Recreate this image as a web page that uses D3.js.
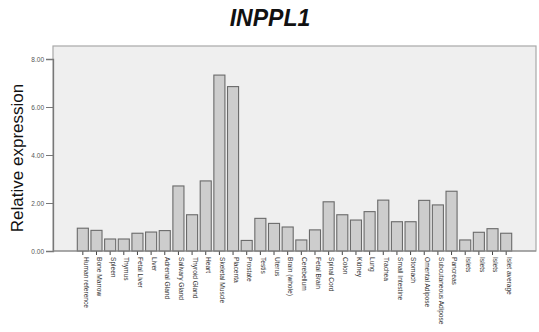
<!DOCTYPE html>
<html>
<head>
<meta charset="utf-8">
<script src="https://cdn.jsdelivr.net/npm/d3@7"></script>
<style>
  html, body { margin: 0; padding: 0; background: #fff; }
  svg { display: block; font-family: "Liberation Sans", Arial, sans-serif; }
</style>
</head>
<body>
<svg id="chart" width="539" height="332"></svg>
<script>
// Tissue panel and relative INPPL1 expression
const tissues = [
  "Human reference", "Bone Marrow", "Spleen", "Thymus", "Fetal Liver", "Liver",
  "Adrenal Gland", "Salivary Gland", "Thyroid Gland", "Heart", "Skeletal Muscle",
  "Placenta", "Prostate", "Testis", "Uterus", "Brain (whole)", "Cerebellum",
  "Fetal Brain", "Spinal Cord", "Colon", "Kidney", "Lung", "Trachea",
  "Small Intestine", "Stomach", "Omental Adipose", "Subcutaneous Adipose",
  "Pancreas", "Islets", "Islets", "Islets", "Islet average"
];
const expression = [
  0.95, 0.86, 0.50, 0.50, 0.74, 0.79, 0.85, 2.71, 1.51, 2.92, 7.33,
  6.85, 0.44, 1.36, 1.15, 1.00, 0.46, 0.88, 2.05, 1.51, 1.29, 1.64,
  2.12, 1.22, 1.22, 2.11, 1.92, 2.49, 0.46, 0.78, 0.93, 0.74
];
const yTicks = [0, 2, 4, 6, 8];
const chartTitle = "INPPL1";
const yTitle = "Relative expression";

const svg = d3.select("#chart");
const plot = { left: 53, right: 536, top: 46, bottom: 251 };

const y = d3.scaleLinear().domain([0, 8]).range([plot.bottom, 59]);
const keys = d3.range(tissues.length);
const x = d3.scaleBand().domain(keys).range([76, 513]).paddingInner(0.19).paddingOuter(0.095);

// plot background
svg.append("rect")
  .attr("x", plot.left).attr("y", plot.top)
  .attr("width", plot.right - plot.left).attr("height", plot.bottom - plot.top)
  .attr("fill", "#efefef").attr("stroke", "#a8a8a8").attr("stroke-width", 1.2);

// bars
svg.append("g").selectAll("rect")
  .data(keys)
  .join("rect")
  .attr("x", i => x(i))
  .attr("y", i => y(expression[i]))
  .attr("width", x.bandwidth())
  .attr("height", i => y(0) - y(expression[i]))
  .attr("fill", "#cdcdcd")
  .attr("stroke", "#6a6a6a")
  .attr("stroke-width", 1.1);

// y axis
const yAxis = d3.axisLeft(y).tickValues(yTicks).tickFormat(d3.format(".2f")).tickSize(7).tickPadding(2);
const gy = svg.append("g").attr("transform", `translate(${plot.left},0)`).call(yAxis);
gy.select(".domain").attr("stroke", "#777").attr("stroke-width", 1.3);
gy.selectAll(".tick line").attr("stroke", "#777");
gy.selectAll(".tick text").attr("font-size", 6.5).attr("fill", "#555")
  .attr("font-family", "Liberation Sans, Arial, sans-serif");

// x axis with vertical category labels
const xAxis = d3.axisBottom(x).tickFormat(i => tissues[i]).tickSize(4).tickSizeOuter(0).tickPadding(2);
const gx = svg.append("g").attr("transform", `translate(0,${plot.bottom})`).call(xAxis);
gx.select(".domain").remove();
gx.selectAll(".tick line").attr("stroke", "#444");
gx.selectAll(".tick text")
  .attr("font-size", 6.6)
  .attr("fill", "#333")
  .attr("font-family", "Liberation Sans, Arial, sans-serif")
  .attr("text-anchor", "start")
  .attr("dy", "0.35em")
  .attr("transform", "translate(3,6) rotate(90)")
  .attr("x", 0).attr("y", 0);

// baseline across the plot
svg.append("line")
  .attr("x1", plot.left).attr("x2", plot.right)
  .attr("y1", plot.bottom).attr("y2", plot.bottom)
  .attr("stroke", "#888").attr("stroke-width", 1.2);

// titles
svg.append("text")
  .attr("x", 270).attr("y", 26)
  .attr("text-anchor", "middle")
  .attr("font-size", 23).attr("font-weight", "bold").attr("font-style", "italic")
  .attr("fill", "#111")
  .text(chartTitle);

svg.append("text")
  .attr("transform", "translate(23,158) rotate(-90)")
  .attr("text-anchor", "middle")
  .attr("font-size", 17)
  .attr("fill", "#111")
  .text(yTitle);
</script>
</body>
</html>
